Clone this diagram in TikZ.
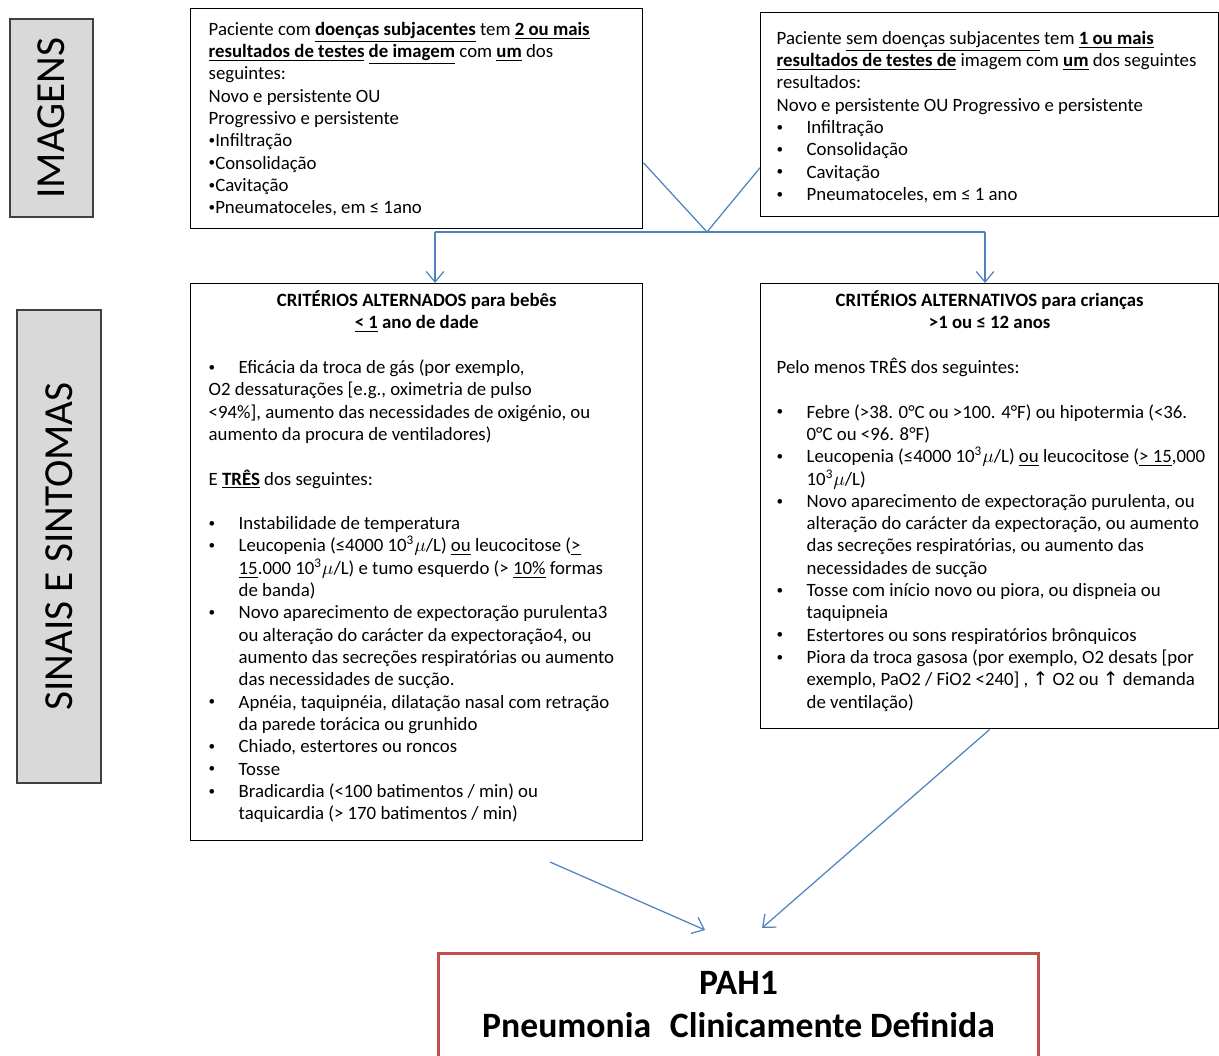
\documentclass[tikz,border=0pt]{standalone}
\usepackage{fontspec}
\setmainfont{Carlito}
\newfontfamily\dejavu{DejaVu Sans}
\usetikzlibrary{positioning,arrows.meta}

\definecolor{flowblue}{HTML}{4F81BD}
\definecolor{resred}{HTML}{C0504D}

\newlength\px
\setlength\px{0.02cm}
\newcommand{\nl}{\newline}
\newcommand{\gap}{\par\vspace{\baselineskip}}
\newcommand{\bul}{\raisebox{0.25ex}{\scalebox{0.7}{\textbullet}}}
\newcommand{\itm}{\par\hangindent=30\px\hangafter=1\noindent\makebox[30\px][l]{\bul}}
\newcommand{\ub}[1]{\underline{\textbf{#1}}}
\newcommand{\mic}{10\textsuperscript{3}$\mu$/L}
\newcommand{\uparr}{{\dejavu ↑}}

\tikzset{
  crit/.style={draw=black, line width=0.8pt, anchor=north west, inner xsep=6*\px,
    font=\fontsize{10.7}{12.7}\selectfont},
  sidelabel/.style={draw=black!75, fill=black!15, line width=0.8pt, rotate=90,
    inner sep=0pt, font=\fontsize{23.5}{28}\selectfont},
  result/.style={draw=resred, line width=1.7pt, anchor=north west, inner xsep=0pt,
    inner ysep=11*\px, font=\bfseries\fontsize{20.3}{24.4}\selectfont},
  flow/.style={draw=flowblue, line width=0.7pt},
  flowarrow/.style={flow, -{Straight Barb[length=6pt,width=10pt]}}
}

\begin{document}
\begin{tikzpicture}[x=0.02cm, y=-0.02cm]
\useasboundingbox (0,0) rectangle (1219,1055);

% Side labels
\node[sidelabel, minimum width=198*\px, minimum height=83*\px] (imagens) at (51.5,118) {IMAGENS};
\node[sidelabel, minimum width=473*\px, minimum height=84*\px] (sinais) at (59,546.5) {SINAIS E SINTOMAS};

% Imaging criteria
\node[crit, inner ysep=11*\px] (imgA) at (190,8) {\parbox[c][198\px][t]{440\px}{\raggedright\leftskip=12\px
\strut Paciente com \ub{doenças subjacentes} tem \ub{2 ou mais}\nl
\ub{resultados de testes} \ub{de imagem} com \ub{um} dos\nl
seguintes:\nl
Novo e persistente OU\nl
Progressivo e persistente\nl
\bul Infiltração\nl
\bul Consolidação\nl
\bul Cavitação\nl
\bul Pneumatoceles, em ≤ 1ano}};

\node[crit, inner ysep=16*\px] (imgB) at (760,12) {\parbox[c][172\px][t]{446\px}{\raggedright\leftskip=10\px
\strut Paciente \underline{sem doenças subjacentes} tem \ub{1 ou mais}\nl
\ub{resultados de testes de} imagem com \ub{um} dos seguintes\nl
resultados:\nl
Novo e persistente OU Progressivo e persistente
\itm Infiltração
\itm Consolidação
\itm Cavitação
\itm Pneumatoceles, em ≤ 1 ano}};

% Signs and symptoms
\node[crit, inner ysep=7*\px] (crit1) at (190,283) {\parbox[c][543\px][t]{440\px}{\raggedright\leftskip=12\px
{\centering\bfseries\strut CRITÉRIOS ALTERNADOS para bebês\\ \underline{< 1} ano de dade\par}
\gap
\noindent\makebox[30\px][l]{\bul}Eficácia da troca de gás (por exemplo,\nl
O2 dessaturações [e.g., oximetria de pulso\nl
<94\%], aumento das necessidades de oxigénio, ou\nl
aumento da procura de ventiladores)
\gap
E \ub{TRÊS} dos seguintes:
\gap
\itm Instabilidade de temperatura
\itm Leucopenia (≤4000 \mic) \underline{ou} leucocitose (\underline{>}\nl
\underline{15}.000 \mic) e tumo esquerdo (> \underline{10\%} formas\nl
de banda)
\itm Novo aparecimento de expectoração purulenta3\nl
ou alteração do carácter da expectoração4, ou\nl
aumento das secreções respiratórias ou aumento\nl
das necessidades de sucção.
\itm Apnéia, taquipnéia, dilatação nasal com retração\nl
da parede torácica ou grunhido
\itm Chiado, estertores ou roncos
\itm Tosse
\itm Bradicardia (<100 batimentos / min) ou\nl
taquicardia (> 170 batimentos / min)}};

\node[crit, inner ysep=7*\px] (crit2) at (760,283) {\parbox[c][431\px][t]{446\px}{\raggedright\leftskip=10\px
{\centering\bfseries\strut CRITÉRIOS ALTERNATIVOS para crianças\\ >1 ou ≤ 12 anos\par}
\gap
Pelo menos TRÊS dos seguintes:
\gap
\itm Febre (>38. 0°C ou >100. 4°F) ou hipotermia (<36.\nl
0°C ou <96. 8°F)
\itm Leucopenia (≤4000 \mic) \underline{ou} leucocitose (\underline{> 15},000\nl
\mic)
\itm Novo aparecimento de expectoração purulenta, ou\nl
alteração do carácter da expectoração, ou aumento\nl
das secreções respiratórias, ou aumento das\nl
necessidades de sucção
\itm Tosse com início novo ou piora, ou dispneia ou\nl
taquipneia
\itm Estertores ou sons respiratórios brônquicos
\itm Piora da troca gasosa (por exemplo, O2 desats [por\nl
exemplo, PaO2 / FiO2 <240] , \uparr{} O2 ou \uparr{} demanda\nl
de ventilação)}};

% Result
\node[result] (pah) at (437,952) {\parbox[c][93\px][t]{600\px}{\centering
\strut PAH1\\ Pneumonia\hspace{0.3em} Clinicamente Definida}};

% Connectors
\coordinate (join) at (707,232);
\coordinate (splitL) at (435,232);
\coordinate (splitR) at (985,232);
\coordinate (c1tail) at (550,862);
\coordinate (c1head) at (705,930);
\coordinate (c2head) at (762,928);

\draw[flow] (imgA.-11.7) -- (join);
\draw[flow] (imgB.193.3) -- (join);
\draw[flow] (splitL) -- (splitR);
\draw[flowarrow] (splitL) -- (splitL |- crit1.north);
\draw[flowarrow] (splitR) -- (splitR |- crit2.north);
\draw[flowarrow] (c1tail) -- (c1head);
\draw[flowarrow] (crit2.south) -- (c2head);

\end{tikzpicture}
\end{document}
